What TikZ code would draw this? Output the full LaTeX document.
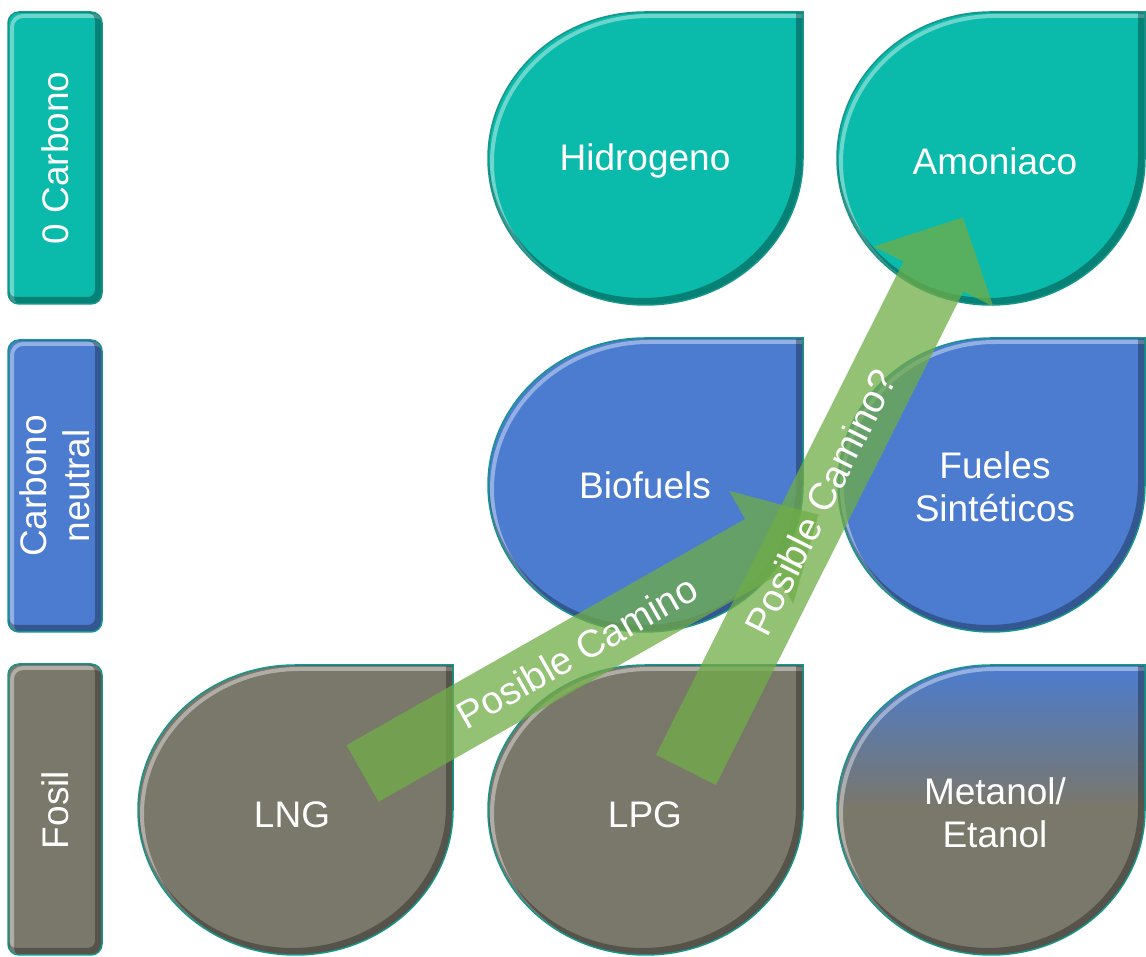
\documentclass[tikz,border=0pt]{standalone}
\usepackage{fontspec}
\setmainfont{Liberation Sans}
\usetikzlibrary{calc}
\definecolor{tealF}{RGB}{10,186,170}
\definecolor{blueF}{RGB}{75,124,208}
\definecolor{grayF}{RGB}{122,119,107}
\definecolor{edgeT}{RGB}{22,150,138}
\definecolor{arrowG}{RGB}{112,173,71}

% teardrop path: x1 y1 x2 y2 (square corner at top right)
\newcommand\tdpath[4]{({(#1+#3)/2},#4) -- (#3,#4) -- (#3,{(#2+#4)/2}) arc[start angle=0,end angle=-270,x radius={(#3-#1)/2},y radius={(#4-#2)/2}] -- cycle}
% rounded label box path
\newcommand\lbpath[4]{[rounded corners=11pt] (#1,#2) rectangle (#3,#4)}
% bevel strokes + outline
\newcommand\bevelfx[1]{%
  \begin{scope}
    \clip #1;
    \draw[white,opacity=0.4,line width=4pt,shift={(4,-4)}] #1;
    \draw[black,opacity=0.3,line width=8pt,shift={(-3,3)}] #1;
  \end{scope}
  \draw[edgeT,line width=1.5pt] #1;}
\newcommand\bevelshape[2]{\fill[#2] #1; \bevelfx{#1}}
% block arrow: name, tail, head, half shaft width, half head width, head length
\newcommand\blockarrow[6]{%
  \coordinate (#1b) at ($(#3)!#6!(#2)$);
  \fill[garrow] ($(#2)!#4!90:(#3)$) -- ($(#1b)!#4!90:(#3)$) -- ($(#1b)!#5!90:(#3)$)
     -- (#3) -- ($(#1b)!#5!-90:(#3)$) -- ($(#1b)!#4!-90:(#3)$) -- ($(#2)!#4!-90:(#3)$) -- cycle;}

\tikzset{
  lbl/.style={text=white,font=\fontsize{37}{43}\selectfont,align=center,inner sep=0pt},
  atext/.style={text=white,font=\fontsize{38.5}{44}\selectfont,inner sep=0pt},
  garrow/.style={fill=arrowG,fill opacity=0.75},
}

\begin{document}
\begin{tikzpicture}[x=1pt,y=1pt]
\useasboundingbox (0,0) rectangle (1146,957);

% left category boxes
\bevelshape{\lbpath{8}{653}{102}{945}}{fill=tealF}
\bevelshape{\lbpath{8}{325}{102}{617}}{fill=blueF}
\bevelshape{\lbpath{8}{2}{102}{293}}{fill=grayF}
\node[lbl,rotate=90] (zc) at (55,799) {0 Carbono};
\node[lbl,rotate=90] (cn) at (55,471) {Carbono\\neutral};
\node[lbl,rotate=90] (fo) at (55,147) {Fosil};

% teardrops
\bevelshape{\tdpath{488}{652}{803}{945}}{fill=tealF}
\bevelshape{\tdpath{837}{652}{1145}{945}}{fill=tealF}
\bevelshape{\tdpath{488}{325}{803}{619}}{fill=blueF}
\bevelshape{\tdpath{838}{325}{1145}{619}}{fill=blueF}
\bevelshape{\tdpath{138}{2}{453}{292}}{fill=grayF}
\bevelshape{\tdpath{488}{2}{803}{292}}{fill=grayF}
\fill[grayF] \tdpath{837}{2}{1145}{292};
\begin{scope}
  \clip \tdpath{837}{2}{1145}{292};
  \shade[top color=blueF,bottom color=grayF] (837,150) rectangle (1145,293);
\end{scope}
\bevelfx{\tdpath{837}{2}{1145}{292}}

\node[lbl] (hid) at (645,796) {Hidrogeno};
\node[lbl] (amo) at (995,796) {Amoniaco};
\node[lbl] (bio) at (645,472) {Biofuels};
\node[lbl] (fue) at (995,470) {Fueles\\Sintéticos};
\node[lbl] (lng) at (292,142) {LNG};
\node[lbl] (lpg) at (645,142) {LPG};
\node[lbl] (met) at (995,144) {Metanol/\\Etanol};

% arrows
\coordinate (t1) at (362.5,183.5);
\coordinate (h1) at (818.5,442.3);
\coordinate (t2) at (686,187);
\coordinate (h2) at (963,739.5);
\blockarrow{a1}{t1}{h1}{32.5pt}{65pt}{66pt}
\blockarrow{a2}{t2}{h2}{33.5pt}{67pt}{66pt}
\path (t1) -- (h1) node[atext,sloped,pos=0.47] (pc1) {Posible Camino};
\path (t2) -- (h2) node[atext,sloped,pos=0.485] (pc2) {Posible Camino?};
\end{tikzpicture}
\end{document}
